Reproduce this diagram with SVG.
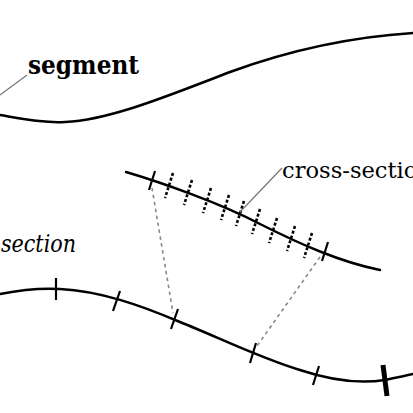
<svg xmlns="http://www.w3.org/2000/svg" width="413" height="413" viewBox="0 0 413 413">
<style>
.curve{fill:none;stroke:#000;stroke-width:2.5;stroke-linecap:round}
.tick{stroke:#000;stroke-width:2.2;fill:none}
.thick{stroke:#000;stroke-width:5;fill:none}
.dtick{stroke:#000;stroke-width:2.6;fill:none;stroke-dasharray:3 2}
.leader{stroke:#777;stroke-width:1.2;fill:none}
.guide{stroke:#888;stroke-width:1.6;fill:none;stroke-dasharray:3.5 3.5}
.lbl{font-family:"DejaVu Serif","Liberation Serif",serif;fill:#000}
</style>
<rect width="413" height="413" fill="#fff"/>
<g id="segment">
  <path class="curve" d="M0,115 C30,120 45,123 65,122 C110,120 170,95 230,72 C290,50 350,37 413,33"/>
  <line class="leader" x1="0" y1="95" x2="27" y2="75"/>
  <text class="lbl" x="28" y="74" font-size="26" font-weight="bold" textLength="111" lengthAdjust="spacingAndGlyphs">segment</text>
</g>
<g id="cross-section-detail">
  <path class="curve" d="M126,172 C160,182 220,203 260,224 C300,244 340,262 380,270"/>
  <line class="tick" x1="155" y1="171" x2="149" y2="190"/>
  <line class="tick" x1="328" y1="242" x2="322" y2="261"/>
  <g class="dtick">
    <line x1="173" y1="173" x2="165" y2="198"/>
    <line x1="192" y1="180" x2="184" y2="205"/>
    <line x1="211" y1="188" x2="203" y2="213"/>
    <line x1="229" y1="195" x2="221" y2="220"/>
    <line x1="244" y1="201" x2="236" y2="226"/>
    <line x1="260" y1="209" x2="252" y2="234"/>
    <line x1="277" y1="218" x2="269" y2="243"/>
    <line x1="295" y1="226" x2="287" y2="251"/>
    <line x1="312" y1="233" x2="304" y2="258"/>
  </g>
  <line class="leader" x1="240" y1="212" x2="282" y2="168"/>
  <text class="lbl" x="282" y="178" font-size="23" textLength="150" lengthAdjust="spacingAndGlyphs">cross-section</text>
</g>
<g id="section-label">
  <text class="lbl" x="1" y="252" font-size="25" font-style="italic" textLength="75" lengthAdjust="spacingAndGlyphs">section</text>
</g>
<g id="section-line">
  <path class="curve" d="M0,294 C20,290 45,288 60,289 C100,291 140,305 180,322 C220,338 260,358 300,370 C330,380 360,384 385,380 C395,378 405,376 413,374"/>
  <line class="tick" x1="56" y1="278" x2="56" y2="300"/>
  <line class="tick" x1="120" y1="291" x2="113" y2="311"/>
  <line class="tick" x1="178" y1="309" x2="171" y2="329"/>
  <line class="tick" x1="256" y1="343" x2="250" y2="363"/>
  <line class="tick" x1="319" y1="366" x2="313" y2="385"/>
  <line class="thick" x1="383" y1="365" x2="387" y2="396"/>
</g>
<g id="connectors">
  <line class="guide" x1="152" y1="188" x2="173" y2="313"/>
  <line class="guide" x1="320" y1="257" x2="257" y2="346"/>
</g>
</svg>
